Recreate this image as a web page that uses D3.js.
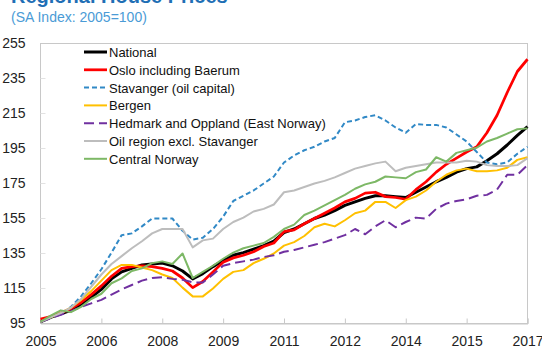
<!DOCTYPE html>
<html>
<head>
<meta charset="utf-8">
<script src="https://cdn.jsdelivr.net/npm/d3@7"></script>
<style>
  html, body { margin: 0; padding: 0; background: #fff; }
  svg { display: block; font-family: "Liberation Sans", Arial, sans-serif; }
</style>
</head>
<body>
<svg id="chart" width="542" height="349"></svg>
<script>
// Quarterly regional house price indices, 2005Q1 – 2017Q1 (SA, 2005=100)
const tickIndex = [0, 6, 12, 18, 24, 30, 36, 42, 48];
const tickLabels = ["2005", "2006", "2008", "2009", "2011", "2012", "2014", "2015", "2017"];
const yTicks = [95, 115, 135, 155, 175, 195, 215, 235, 255];

const seriesNames = [
  "National",
  "Oslo including Baerum",
  "Stavanger (oil capital)",
  "Bergen",
  "Hedmark and Oppland (East Norway)",
  "Oil region excl. Stavanger",
  "Central Norway"
];

const national = [96, 98.5, 100.5, 102.5, 106, 110, 114.5, 120.5, 124.5, 126.5, 128.5, 129, 129.5, 128, 125, 120.5,
  123.5, 127.5, 131, 134, 135.5, 137.5, 139.5, 142, 147, 149, 152, 155, 157, 159.5, 162.5, 164.5,
  166.5, 168, 168, 167.5, 167, 170, 173, 176, 178.5, 181.5, 183.5, 184.5, 188, 192, 197, 202.5, 207.5];

const oslo = [97.5, 99, 101, 103.5, 107, 111.5, 116.5, 122, 126.5, 127.5, 128, 127.5, 126.5, 125, 121, 115.5,
  119, 124.5, 130, 132.5, 134, 136, 139, 141, 147.5, 148.5, 152, 155, 158, 161, 164.5, 166.5,
  169.5, 170, 167.5, 167, 166, 171.5, 176, 181.5, 186, 189.5, 193, 196, 204, 214, 227, 239, 246];

const stavanger = [96, 98.5, 100.5, 104.5, 110.5, 118, 126, 135.5, 145.5, 146.5, 150.5, 155, 155, 155, 148, 143,
  144, 149, 156, 165, 168, 171, 175, 179, 187, 191, 194, 196, 199, 201, 210, 211,
  213, 214, 211, 207, 204, 209, 208.5, 208.5, 207, 203, 199, 193, 187, 186, 187, 192, 196];

const bergen = [96, 98.5, 101, 104, 108.5, 113.5, 119.5, 125.5, 128.5, 128.5, 127, 125.5, 123, 121, 115.5, 110.5,
  110.5, 115, 120.5, 124.5, 125.5, 129.5, 132, 135, 139.5, 141.5, 145, 150, 152, 150.5, 154, 158,
  159.5, 164.5, 164.5, 161, 165.5, 167.5, 171, 176, 180, 182.5, 183.5, 182, 182, 182.5, 184, 188.5, 190];

const hedmark = [96, 98, 100, 102, 104.5, 106.5, 108.5, 111.5, 114.5, 117, 119.5, 121, 121.5, 120.5, 120, 118.5,
  118.5, 123, 128, 129.5, 130.5, 131.5, 133, 134, 136, 137, 138.5, 140, 141.5, 143.5, 145.5, 149,
  146, 150.5, 154, 150, 153, 155.5, 155, 160.5, 163.5, 165, 166, 168, 168.5, 171.5, 180, 180, 185.5];

const oilRegion = [96, 98.5, 101, 104, 109, 116, 123, 129, 133.5, 138, 142, 146.5, 149, 149, 149, 138.5,
  142.5, 143.5, 149, 153, 155.5, 159, 160.5, 163, 170, 171, 173, 175, 176.5, 178.5, 181, 183.5,
  185, 186.5, 187.5, 182, 184, 185, 186, 187, 187, 187, 188, 187.5, 185.5, 185, 185, 185.5, 189.5];

const central = [96, 99.5, 102.5, 101.5, 104.5, 109, 112, 118, 120.8, 125, 126.5, 129.5, 130.5, 129, 135, 121,
  124.5, 128, 132, 135.5, 138, 139.5, 141, 144.5, 149, 151.5, 157, 159.5, 162.5, 165.5, 168.5, 172,
  174.5, 176, 179, 178.5, 178, 181.5, 183, 190, 187.5, 192.5, 194, 195.5, 199, 201, 203.5, 206, 206.5];

const seriesValues = [national, oslo, stavanger, bergen, hedmark, oilRegion, central];

// Line styling per series
const styles = [
  { color: "#000000", width: 3,    dash: null },
  { color: "#FF0000", width: 2.75, dash: null },
  { color: "#3189C6", width: 2,    dash: "5,3" },
  { color: "#FFC000", width: 2,    dash: null },
  { color: "#7030A0", width: 2,    dash: "10,5" },
  { color: "#BDBDBD", width: 2,    dash: null },
  { color: "#7DB866", width: 2,    dash: null }
];

const svg = d3.select("#chart");
const plotLeft = 40.5, plotRight = 527.5, plotTop = 43.5, plotBottom = 323.5;

const x = d3.scaleLinear().domain([0, 48]).range([plotLeft, plotRight]);
const y = d3.scaleLinear().domain([95, 255]).range([plotBottom, plotTop]);

// Title and subtitle
svg.append("text")
  .attr("x", 11).attr("y", 3)
  .attr("font-size", 20).attr("font-weight", "bold")
  .attr("fill", "#1F6FB5")
  .text("Regional House Prices");
svg.append("text")
  .attr("x", 11).attr("y", 22)
  .attr("font-size", 14)
  .attr("fill", "#4A9BD6")
  .text("(SA Index: 2005=100)");

// Plot frame
svg.append("rect")
  .attr("x", plotLeft).attr("y", plotTop)
  .attr("width", plotRight - plotLeft).attr("height", plotBottom - plotTop)
  .attr("fill", "none").attr("stroke", "#C8C8C8").attr("stroke-width", 1);

// Y axis (labels outside, faint inward ticks)
const yAxis = d3.axisLeft(y).tickValues(yTicks).tickSize(0).tickPadding(15);
const gy = svg.append("g").attr("transform", `translate(${plotLeft},0)`).call(yAxis);
gy.select(".domain").remove();
gy.selectAll("text").attr("font-size", 14).attr("fill", "#222")
  .attr("font-family", "Liberation Sans, Arial, sans-serif");
svg.append("g").selectAll("line").data(yTicks.slice(1, -1)).join("line")
  .attr("x1", plotLeft).attr("x2", plotLeft + 5)
  .attr("y1", d => y(d)).attr("y2", d => y(d))
  .attr("stroke", "#E2E2E2").attr("stroke-width", 1);

// X axis (ticks pointing up into the plot)
const xAxis = d3.axisBottom(x).tickValues(tickIndex)
  .tickFormat((d, i) => tickLabels[i]).tickSize(-5).tickPadding(13);
const gx = svg.append("g").attr("transform", `translate(0,${plotBottom})`).call(xAxis);
gx.select(".domain").attr("stroke", "#C8C8C8");
gx.selectAll(".tick line").attr("stroke", "#C8C8C8");
gx.selectAll("text").attr("font-size", 14).attr("fill", "#222")
  .attr("font-family", "Liberation Sans, Arial, sans-serif");

// Series lines
const line = d3.line().x((d, i) => x(i)).y(d => y(d)).curve(d3.curveLinear);
seriesValues.forEach((vals, k) => {
  const s = styles[k];
  svg.append("path")
    .datum(vals)
    .attr("d", line)
    .attr("fill", "none")
    .attr("stroke", s.color)
    .attr("stroke-width", s.width)
    .attr("stroke-dasharray", s.dash)
    .attr("stroke-linejoin", "round");
});

// Legend
const legend = svg.append("g").attr("transform", "translate(84,52)");
seriesNames.forEach((name, k) => {
  const s = styles[k];
  const g = legend.append("g").attr("transform", `translate(0,${k * 17.8})`);
  g.append("line")
    .attr("x1", 0).attr("x2", 23).attr("y1", 0).attr("y2", 0)
    .attr("stroke", s.color).attr("stroke-width", s.width)
    .attr("stroke-dasharray", s.dash);
  g.append("text")
    .attr("x", 25).attr("y", 5)
    .attr("font-size", 13).attr("fill", "#111")
    .text(name);
});
</script>
</body>
</html>
